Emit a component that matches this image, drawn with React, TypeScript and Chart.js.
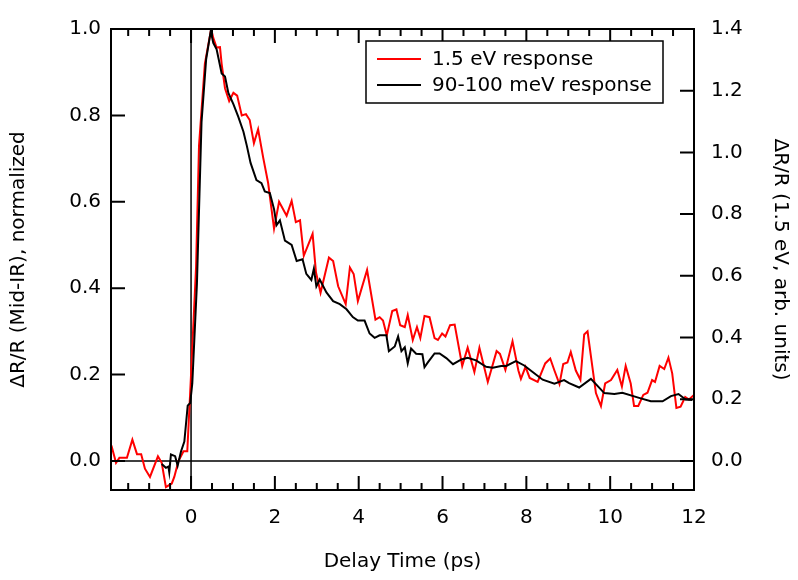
import React, { useEffect, useRef } from "react";
import { Chart, registerables } from "chart.js";

Chart.register(...registerables);

// ---- Data ----
const blackTime = [
  -0.70, -0.60, -0.54, -0.52, -0.48, -0.38, -0.32, -0.24, -0.16, -0.08, -0.02, 0.03,
  0.14, 0.25, 0.36, 0.47, 0.53, 0.61, 0.73, 0.81, 0.89, 1.01, 1.13, 1.25, 1.33, 1.42,
  1.56, 1.68, 1.76, 1.88, 1.98, 2.04, 2.12, 2.24, 2.40, 2.52, 2.66, 2.75, 2.87, 2.93,
  2.99, 3.07, 3.23, 3.39, 3.55, 3.71, 3.86, 3.98, 4.14, 4.26, 4.38, 4.50, 4.66, 4.72,
  4.86, 4.94, 5.02, 5.10, 5.17, 5.25, 5.37, 5.52, 5.57, 5.65, 5.81, 5.93, 6.09, 6.25,
  6.45, 6.60, 6.80, 7.04, 7.20, 7.40, 7.52, 7.75, 7.95, 8.15, 8.39, 8.67, 8.90, 9.02,
  9.26, 9.54, 9.86, 10.10, 10.29, 10.69, 10.97, 11.25, 11.45, 11.63, 11.80, 11.96,
];
const blackValues = [
  -0.007, -0.016, -0.013, -0.026, 0.015, 0.011, -0.011, 0.022, 0.045, 0.128, 0.134, 0.18,
  0.41, 0.785, 0.93, 0.995, 0.968, 0.953, 0.897, 0.89, 0.852, 0.826, 0.796, 0.762, 0.73, 0.69,
  0.65, 0.643, 0.624, 0.62, 0.583, 0.546, 0.557, 0.51, 0.50, 0.463, 0.467, 0.433, 0.419, 0.445,
  0.404, 0.42, 0.39, 0.37, 0.363, 0.351, 0.333, 0.325, 0.325, 0.295, 0.285, 0.291, 0.291, 0.254,
  0.265, 0.288, 0.254, 0.263, 0.226, 0.26, 0.248, 0.247, 0.217, 0.228, 0.249, 0.249, 0.238, 0.224,
  0.235, 0.239, 0.233, 0.218, 0.216, 0.22, 0.22, 0.231, 0.221, 0.206, 0.188, 0.179, 0.187, 0.18,
  0.17, 0.19, 0.157, 0.155, 0.158, 0.146, 0.138, 0.138, 0.15, 0.155, 0.142, 0.141,
];

const redTime = [
  -1.90, -1.79, -1.71, -1.53, -1.40, -1.29, -1.19, -1.10, -0.98, -0.79, -0.70, -0.60,
  -0.46, -0.40, -0.30, -0.18, -0.09, -0.01, 0.12, 0.19, 0.33, 0.48, 0.53, 0.61, 0.69,
  0.73, 0.81, 0.91, 1.01, 1.10, 1.21, 1.31, 1.40, 1.50, 1.60, 1.72, 1.84, 1.92, 1.98,
  2.10, 2.28, 2.40, 2.50, 2.60, 2.69, 2.90, 2.98, 3.09, 3.29, 3.39, 3.51, 3.69, 3.79,
  3.88, 3.98, 4.20, 4.40, 4.50, 4.58, 4.67, 4.80, 4.90, 4.99, 5.10, 5.17, 5.29, 5.39,
  5.47, 5.57, 5.69, 5.81, 5.89, 5.99, 6.07, 6.18, 6.29, 6.47, 6.60, 6.76, 6.88, 7.08,
  7.29, 7.37, 7.50, 7.67, 7.81, 7.87, 7.98, 8.08, 8.27, 8.45, 8.57, 8.67, 8.79, 8.88,
  8.98, 9.06, 9.18, 9.29, 9.38, 9.46, 9.66, 9.78, 9.88, 10.02, 10.17, 10.28, 10.37,
  10.49, 10.57, 10.67, 10.79, 10.89, 11.00, 11.07, 11.18, 11.29, 11.39, 11.48, 11.58,
  11.68, 11.79, 11.88, 12.0,
];
const redValues = [
  0.050, -0.006, 0.010, 0.010, 0.069, 0.022, 0.022, -0.025, -0.052, 0.015, -0.006, -0.085,
  -0.073, -0.052, 0.0, 0.031, 0.031, 0.252, 0.63, 1.022, 1.288, 1.40, 1.371, 1.340, 1.341,
  1.287, 1.208, 1.166, 1.193, 1.184, 1.12, 1.124, 1.105, 1.030, 1.075, 0.984, 0.900, 0.816, 0.753,
  0.84, 0.795, 0.843, 0.774, 0.780, 0.665, 0.736, 0.612, 0.545, 0.659, 0.648, 0.566, 0.508, 0.627,
  0.606, 0.518, 0.619, 0.458, 0.466, 0.455, 0.407, 0.486, 0.491, 0.440, 0.434, 0.473, 0.392, 0.434,
  0.398, 0.470, 0.466, 0.398, 0.392, 0.413, 0.403, 0.440, 0.442, 0.308, 0.367, 0.288, 0.367, 0.256,
  0.356, 0.347, 0.295, 0.388, 0.293, 0.266, 0.305, 0.269, 0.256, 0.316, 0.332, 0.293, 0.249, 0.314,
  0.319, 0.353, 0.293, 0.263, 0.410, 0.42, 0.220, 0.178, 0.251, 0.262, 0.295, 0.241, 0.308,
  0.251, 0.178, 0.178, 0.214, 0.221, 0.262, 0.256, 0.308, 0.298, 0.335, 0.284, 0.172,
  0.176, 0.207, 0.199, 0.214,
];

const xTickValues = [0, 2, 4, 6, 8, 10, 12];
const leftTickValues = [0, 0.2, 0.4, 0.6, 0.8, 1.0];
const rightTickValues = [0, 0.2, 0.4, 0.6, 0.8, 1.0, 1.2, 1.4];
const seriesLabels = ["1.5 eV response", "90-100 meV response"];
const xTitle = "Delay Time (ps)";
const yLeftTitle = "ΔR/R (Mid-IR), normalized";
const yRightTitle = "ΔR/R (1.5 eV, arb. units)";

const FONT_FAMILY = "'DejaVu Sans', sans-serif";
const FONT_SIZE = 20;

const framePlugin = {
  id: "frameTicksLegend",
  beforeDatasetsDraw(chart: any) {
    const { ctx, chartArea: a, scales } = chart;
    ctx.save();
    ctx.strokeStyle = "#000";
    ctx.lineWidth = 1.5;
    const y0 = scales.y.getPixelForValue(0);
    const x0 = scales.x.getPixelForValue(0);
    ctx.beginPath();
    ctx.moveTo(a.left, y0);
    ctx.lineTo(a.right, y0);
    ctx.moveTo(x0, a.top);
    ctx.lineTo(x0, a.bottom);
    ctx.stroke();
    ctx.restore();
  },
  afterDraw(chart: any) {
    const { ctx, chartArea: a, scales } = chart;
    ctx.save();
    ctx.strokeStyle = "#000";
    ctx.lineWidth = 2;
    ctx.strokeRect(a.left, a.top, a.right - a.left, a.bottom - a.top);

    ctx.beginPath();
    const xs = scales.x;
    const start = Math.ceil(xs.min / 0.5) * 0.5;
    for (let v = start; v <= xs.max + 1e-9; v += 0.5) {
      const px = xs.getPixelForValue(v);
      const major = Math.abs(v / 2 - Math.round(v / 2)) < 1e-6;
      const len = major ? 14 : 7;
      ctx.moveTo(px, a.bottom);
      ctx.lineTo(px, a.bottom - len);
      ctx.moveTo(px, a.top);
      ctx.lineTo(px, a.top + len);
    }
    for (const t of scales.y.ticks) {
      const py = scales.y.getPixelForValue(t.value);
      ctx.moveTo(a.left, py);
      ctx.lineTo(a.left + 14, py);
    }
    for (const t of scales.y2.ticks) {
      const py = scales.y2.getPixelForValue(t.value);
      ctx.moveTo(a.right, py);
      ctx.lineTo(a.right - 14, py);
    }
    ctx.stroke();

    // legend box
    const lx = 366, ly = 41, lw = 297, lh = 62;
    ctx.fillStyle = "#fff";
    ctx.fillRect(lx, ly, lw, lh);
    ctx.lineWidth = 1.5;
    ctx.strokeRect(lx, ly, lw, lh);
    ctx.font = `${FONT_SIZE}px ${FONT_FAMILY}`;
    ctx.textBaseline = "middle";
    ctx.textAlign = "left";
    const rows = [59, 85];
    chart.data.datasets.forEach((ds: any, i: number) => {
      const ry = rows[i];
      ctx.strokeStyle = ds.borderColor;
      ctx.lineWidth = 2;
      ctx.beginPath();
      ctx.moveTo(377, ry);
      ctx.lineTo(421, ry);
      ctx.stroke();
      ctx.fillStyle = "#000";
      ctx.fillText(ds.label, 432, ry + 1);
    });
    ctx.restore();
  },
};

export default function App() {
  const ref = useRef<HTMLCanvasElement | null>(null);

  useEffect(() => {
    if (!ref.current) return;
    const font = { family: FONT_FAMILY, size: FONT_SIZE };
    const chart = new Chart(ref.current, {
      type: "line",
      data: {
        datasets: [
          {
            label: seriesLabels[0],
            data: redTime.map((t, i) => ({ x: t, y: redValues[i] })),
            yAxisID: "y2",
            borderColor: "#ff0000",
            borderWidth: 2,
            pointRadius: 0,
            tension: 0,
            order: 1,
          },
          {
            label: seriesLabels[1],
            data: blackTime.map((t, i) => ({ x: t, y: blackValues[i] })),
            yAxisID: "y",
            borderColor: "#000000",
            borderWidth: 2,
            pointRadius: 0,
            tension: 0,
            order: 0,
          },
        ],
      },
      options: {
        responsive: false,
        animation: false,
        layout: { padding: { top: 14, left: 0, right: 0, bottom: 0 } },
        plugins: { legend: { display: false }, tooltip: { enabled: false } },
        scales: {
          x: {
            type: "linear",
            min: -1.91,
            max: 12,
            afterBuildTicks: (s: any) => {
              s.ticks = xTickValues.map((v) => ({ value: v }));
            },
            afterFit: (s: any) => {
              s.height = 90;
            },
            grid: { display: false, drawTicks: false },
            border: { display: false },
            ticks: {
              padding: 16,
              font,
              color: "#000",
              maxRotation: 0,
              autoSkip: false,
              callback: (v: any) => String(v),
            },
            title: {
              display: true,
              text: xTitle,
              font,
              color: "#000",
              padding: { top: 0, bottom: 6 },
            },
          },
          y: {
            type: "linear",
            position: "left",
            min: -0.0673,
            max: 1.0,
            afterBuildTicks: (s: any) => {
              s.ticks = leftTickValues.map((v) => ({ value: v }));
            },
            afterFit: (s: any) => {
              s.width = 111;
            },
            grid: { display: false, drawTicks: false },
            border: { display: false },
            ticks: {
              padding: 10,
              font,
              color: "#000",
              autoSkip: false,
              callback: (v: any) => Number(v).toFixed(1),
            },
            title: {
              display: true,
              text: yLeftTitle,
              font,
              color: "#000",
              padding: { top: 7, bottom: 0 },
            },
          },
          y2: {
            type: "linear",
            position: "right",
            min: -0.0942,
            max: 1.4,
            afterBuildTicks: (s: any) => {
              s.ticks = rightTickValues.map((v) => ({ value: v }));
            },
            afterFit: (s: any) => {
              s.width = 104;
            },
            grid: { display: false, drawTicks: false },
            border: { display: false },
            ticks: {
              padding: 17,
              font,
              color: "#000",
              autoSkip: false,
              callback: (v: any) => Number(v).toFixed(1),
            },
            title: {
              display: true,
              text: yRightTitle,
              font,
              color: "#000",
              padding: { top: 6, bottom: 0 },
            },
          },
        },
      } as any,
      plugins: [framePlugin],
    });
    return () => chart.destroy();
  }, []);

  return (
    <div
      style={{
        position: "fixed",
        left: 0,
        top: 0,
        width: 798,
        height: 580,
        background: "#fff",
      }}
    >
      <canvas
        ref={ref}
        width={798}
        height={580}
        style={{ width: 798, height: 580, display: "block" }}
      />
    </div>
  );
}
